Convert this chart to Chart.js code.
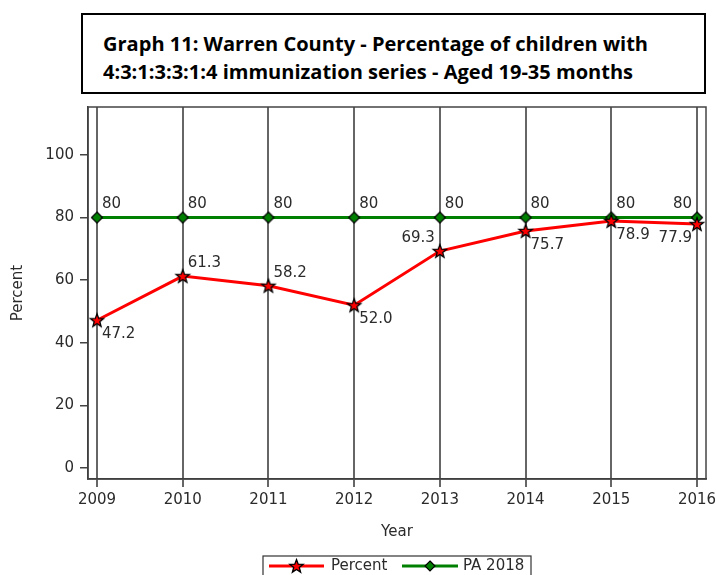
<!DOCTYPE html>
<html>
<head>
<meta charset="utf-8">
<script src="https://cdn.jsdelivr.net/npm/chart.js@4/dist/chart.umd.min.js"></script>
<style>
  html, body { margin: 0; padding: 0; background: #fff; }
  #wrap { position: relative; width: 716px; height: 575px; overflow: hidden; }
  #c { position: absolute; left: 0; top: 0; }
  #title {
    position: absolute; left: 81px; top: 13px; width: 621px; height: 77px;
    border: 2px solid #000; box-sizing: content-box; background: #fff;
  }
  .tl {
    position: absolute; left: 20px; font: bold 20px "Open Sans", sans-serif;
    color: #000; white-space: nowrap; transform-origin: 0 0; line-height: 27px;
  }
  #t1 { top: 15px; }
  #t2 { top: 43px; }
</style>
</head>
<body>
<div id="wrap">
  <canvas id="c" width="716" height="575"></canvas>
  <div id="title">
    <div class="tl" id="t1">Graph 11: Warren County - Percentage of children with</div>
    <div class="tl" id="t2">4:3:1:3:3:1:4 immunization series - Aged 19-35 months</div>
  </div>
</div>
<script>
// Immunization coverage by year
const years = [2009, 2010, 2011, 2012, 2013, 2014, 2015, 2016];
const percent = [47.2, 61.3, 58.2, 52.0, 69.3, 75.7, 78.9, 77.9];
const pa2018 = [80, 80, 80, 80, 80, 80, 80, 80];
const yTicks = [0, 20, 40, 60, 80, 100];

// Which side of each point its value label sits on (t/b = above/below, l/r = left/right)
const percentLabelSides = ['br', 'tr', 'tr', 'br', 'tl', 'br', 'br', 'bl'];
const paLabelSides = ['tr', 'tr', 'tr', 'tr', 'tr', 'tr', 'tr', 'tl'];

const RED = '#ff0000';
const GREEN = '#008000';
const TEXT = '#2b2b2b';
const FONT = '"DejaVu Sans", sans-serif';

// Condense the heading to the width of its box
(function fitTitle() {
  const m = document.createElement('canvas').getContext('2d');
  m.font = 'bold 20px "Open Sans"';
  const w = m.measureText(document.getElementById('t1').textContent).width;
  const s = 545 / w;
  document.getElementById('t1').style.transform = 'scaleX(' + s + ')';
  document.getElementById('t2').style.transform = 'scaleX(' + s + ')';
})();

function drawStar(ctx, x, y, R, fill) {
  const r = R * 0.42;
  ctx.beginPath();
  for (let i = 0; i < 10; i++) {
    const rad = i % 2 === 0 ? R : r;
    const a = -Math.PI / 2 + i * Math.PI / 5;
    const px = x + rad * Math.cos(a), py = y + rad * Math.sin(a);
    if (i === 0) ctx.moveTo(px, py); else ctx.lineTo(px, py);
  }
  ctx.closePath();
  ctx.fillStyle = fill;
  ctx.fill();
  ctx.lineWidth = 1.3;
  ctx.strokeStyle = '#000';
  ctx.stroke();
}

function drawDiamond(ctx, x, y, R, fill) {
  ctx.beginPath();
  ctx.moveTo(x, y - R);
  ctx.lineTo(x + R, y);
  ctx.lineTo(x, y + R);
  ctx.lineTo(x - R, y);
  ctx.closePath();
  ctx.fillStyle = fill;
  ctx.fill();
  ctx.lineWidth = 1.2;
  ctx.strokeStyle = '#000';
  ctx.stroke();
}

function markerCanvas(kind) {
  const c = document.createElement('canvas');
  c.width = 18; c.height = 18;
  const g = c.getContext('2d');
  if (kind === 'star') drawStar(g, 9, 9.5, 7, RED);
  else drawDiamond(g, 9, 9, 5.5, GREEN);
  return c;
}
const starImg = markerCanvas('star');
const diamondImg = markerCanvas('diamond');

// Value labels beside each point
const valueLabels = {
  id: 'valueLabels',
  afterDatasetsDraw(chart) {
    const ctx = chart.ctx;
    ctx.save();
    ctx.font = '15px ' + FONT;
    ctx.fillStyle = TEXT;
    ctx.textBaseline = 'middle';
    chart.data.datasets.forEach((ds, di) => {
      const meta = chart.getDatasetMeta(di);
      meta.data.forEach((pt, i) => {
        const side = ds.labelSides[i];
        const v = ds.data[i].y;
        const txt = ds.decimals ? v.toFixed(ds.decimals) : String(v);
        const dx = side[1] === 'r' ? 5 : -5;
        const dy = side[0] === 't' ? -13 : 14;
        ctx.textAlign = side[1] === 'r' ? 'left' : 'right';
        ctx.fillText(txt, pt.x + dx, pt.y + dy);
      });
    });
    ctx.restore();
  }
};

// Frame around the plot area and the boxed legend below the axis
const frameAndLegend = {
  id: 'frameAndLegend',
  afterDraw(chart) {
    const ctx = chart.ctx;
    const a = chart.chartArea;
    ctx.save();
    ctx.strokeStyle = '#444';
    ctx.lineWidth = 1.5;
    ctx.strokeRect(a.left, a.top, a.right - a.left, a.bottom - a.top);

    // legend
    const lx = 263, ly = 556, lw = 268, lh = 40;
    ctx.strokeStyle = '#333';
    ctx.lineWidth = 1.2;
    ctx.strokeRect(lx, ly, lw, lh);
    const cy = 566;
    const items = chart.data.datasets;
    const slots = [{x0: 269, x1: 324, tx: 331}, {x0: 402, x1: 458, tx: 463}];
    items.forEach((ds, i) => {
      const s = slots[i];
      ctx.strokeStyle = ds.borderColor;
      ctx.lineWidth = 3;
      ctx.beginPath();
      ctx.moveTo(s.x0, cy);
      ctx.lineTo(s.x1, cy);
      ctx.stroke();
      const mx = (s.x0 + s.x1) / 2;
      if (i === 0) drawStar(ctx, mx, cy + 0.5, 7, RED);
      else drawDiamond(ctx, mx, cy, 5, GREEN);
      ctx.fillStyle = TEXT;
      ctx.font = '15px ' + FONT;
      ctx.textAlign = 'left';
      ctx.textBaseline = 'middle';
      ctx.fillText(ds.label, s.tx, cy);
    });
    ctx.restore();
  }
};

const toPoints = vals => years.map((yr, i) => ({x: yr, y: vals[i]}));

new Chart(document.getElementById('c'), {
  type: 'line',
  data: {
    datasets: [
      {
        label: 'Percent',
        data: toPoints(percent),
        borderColor: RED,
        borderWidth: 3,
        pointStyle: starImg,
        pointRadius: 7,
        labelSides: percentLabelSides,
        decimals: 1,
        tension: 0
      },
      {
        label: 'PA 2018',
        data: toPoints(pa2018),
        borderColor: GREEN,
        borderWidth: 3,
        pointStyle: diamondImg,
        pointRadius: 6,
        labelSides: paLabelSides,
        decimals: 0,
        tension: 0
      }
    ]
  },
  options: {
    responsive: false,
    animation: false,
    layout: { padding: { left: 0, right: 8, top: 107, bottom: 0 } },
    plugins: {
      legend: { display: false },
      tooltip: { enabled: false }
    },
    scales: {
      x: {
        type: 'linear',
        min: 2009 - 0.105,
        max: 2016 + 0.105,
        afterBuildTicks: s => { s.ticks = years.map(v => ({value: v})); },
        afterFit: s => { s.height = 96; s.paddingLeft = 0; s.paddingRight = 0; },
        ticks: {
          callback: v => String(v),
          color: TEXT,
          font: { family: FONT, size: 15 },
          padding: 4,
          maxRotation: 0,
          autoSkip: false
        },
        grid: { color: '#666', lineWidth: 2, tickLength: 8, drawOnChartArea: true },
        border: { display: true, color: '#333', width: 1.5 },
        title: {
          display: true, text: 'Year', color: TEXT,
          font: { family: FONT, size: 15 },
          padding: { top: 4, bottom: 34 }
        }
      },
      y: {
        min: -3.5,
        max: 115.3,
        afterBuildTicks: s => { s.ticks = yTicks.map(v => ({value: v})); },
        afterFit: s => { s.width = 88; s.paddingTop = 0; s.paddingBottom = 0; },
        ticks: {
          color: TEXT,
          font: { family: FONT, size: 15 },
          padding: 6
        },
        grid: { drawOnChartArea: false, color: '#444', lineWidth: 1.5, tickLength: 8 },
        border: { display: true, color: '#333', width: 1.5 },
        title: {
          display: true, text: 'Percent', color: TEXT,
          font: { family: FONT, size: 15 },
          padding: { top: 9, bottom: 4 }
        }
      }
    }
  },
  plugins: [valueLabels, frameAndLegend]
});
</script>
</body>
</html>
